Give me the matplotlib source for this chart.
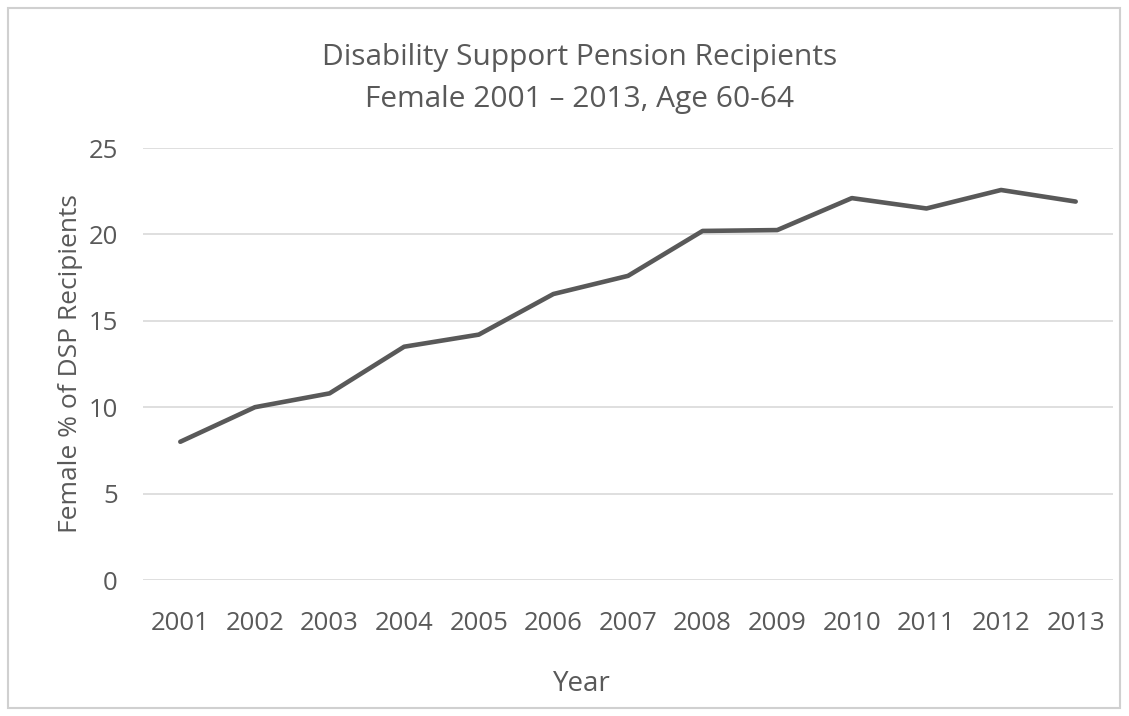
import numpy as np
import matplotlib.pyplot as plt
from matplotlib.patches import Rectangle

annees = [2001, 2002, 2003, 2004, 2005, 2006, 2007, 2008, 2009, 2010, 2011, 2012, 2013]
pourcent = [8.0, 10.0, 10.8, 13.5, 14.2, 16.55, 17.6, 20.2, 20.25, 22.1, 21.5, 22.57, 21.9]
yticks = [0, 5, 10, 15, 20, 25]

gris = "#595959"
plt.rcParams['font.family'] = ['Open Sans', 'DejaVu Sans']

fig = plt.figure(figsize=(11.29, 7.16), dpi=100)
ax = fig.add_axes([143/1129, 1-580/716, 970/1129, 432/716])

x = np.array(annees)
y = np.array(pourcent)
ax.plot(x, y, "-", color=gris, lw=3.3, solid_capstyle="round", solid_joinstyle="round", zorder=3)

ax.set_xlim(2000.5, 2013.5)
ax.set_ylim(0, 25)
ax.set_xticks(annees)
ax.set_xticklabels([str(a) for a in annees])
ax.set_yticks(yticks)
ax.grid(axis="y", color="#d9d9d9", lw=1.2)
ax.tick_params(length=0, labelsize=18.5, labelcolor=gris)
ax.tick_params(axis="x", pad=22)
ax.tick_params(axis="y", pad=18)
for s in ax.spines.values():
    s.set_visible(False)

ax.set_xlabel("Year", fontsize=20, color=gris, labelpad=25)
ax.xaxis.label.set_x((582-143)/970)
ax.set_ylabel("Female % of DSP Recipients", fontsize=19, color=gris, labelpad=4)

fig.text(580/1129, 1-58/716, "Disability Support Pension Recipients", ha="center", va="center", fontsize=21.5, color=gris)
fig.text(580/1129, 1-100/716, "Female 2001 \u2013 2013, Age 60-64", ha="center", va="center", fontsize=21.5, color=gris)

fig.patches.append(Rectangle((8/1129, 8/716), 1112/1129, 700/716, transform=fig.transFigure,
                             fill=False, edgecolor="#d0d0d0", lw=1.5))

fig.savefig("out.png", dpi=100)
